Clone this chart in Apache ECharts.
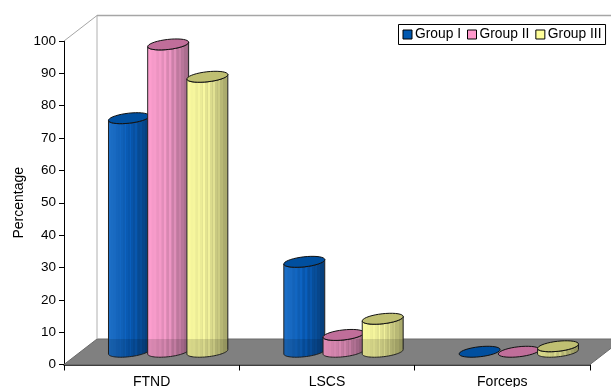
<!DOCTYPE html>
<html>
<head>
<meta charset="utf-8">
<style>html,body{margin:0;padding:0;background:#fff}#chart{width:611px;height:387px}</style>
<script src="https://cdn.jsdelivr.net/npm/echarts@6/dist/echarts.min.js"></script>
</head>
<body>
<div id="chart"></div>
<script>
// Mode of delivery by group (percentage)
const categories = ['FTND', 'LSCS', 'Forceps'];
const groupNames = ['Group I', 'Group II', 'Group III'];
const groupI = [72.2, 27.8, 0];
const groupII = [95, 5.2, 0];
const groupIII = [85, 10.2, 1.7];
const groupValues = [groupI, groupII, groupIII];

// Cylinder shading: left, middle and right tones of the side, then the cap
const palettes = [
  { left: [30, 112, 200], mid: [8, 86, 172], right: [6, 62, 122], cap: '#004f9f', swatch: '#0058b0' },
  { left: [255, 160, 208], mid: [216, 136, 178], right: [166, 108, 140], cap: '#c06e9a', swatch: '#ff99cc' },
  { left: [252, 252, 160], mid: [220, 220, 142], right: [166, 166, 106], cap: '#bfbf72', swatch: '#ffff99' }
];

// Oblique projection of the chart box
const DEPTH_X = 33, DEPTH_Y = 25.5;
const SPACING = 39.2, RX = 20.6, RY = 5, TILT = -6.5 * Math.PI / 180;

function ellipsePoint(cx, cy, t) {
  const ex = RX * Math.cos(t), ey = RY * Math.sin(t);
  return [cx + ex * Math.cos(TILT) - ey * Math.sin(TILT),
          cy + ex * Math.sin(TILT) + ey * Math.cos(TILT)];
}
function arc(cx, cy, from, to) {
  const pts = [];
  for (let i = 0; i <= 36; i++) pts.push(ellipsePoint(cx, cy, from + (to - from) * i / 36));
  return pts;
}
const mixTone = (a, b, t, k) => 'rgb(' + a.map((v, i) => Math.min(255, Math.round((v + (b[i] - v) * t) * k))).join(',') + ')';

// Fine vertical facets across the cylinder side
const facetGain = [1, 1, 1, 1, 1.02, 1, 1, 1.05, 1.02, 1, 1.1, 1.02, 1, 1.12, 1.04, 1, 1.12, 1.02, 1, 1.08, 1, 1.03, 0.98, 1, 0.97];
function sideFill(p) {
  const stops = [];
  const n = facetGain.length;
  facetGain.forEach((k, i) => {
    const t = i / (n - 1);
    const c = t < 0.5 ? mixTone(p.left, p.mid, t / 0.5, k) : mixTone(p.mid, p.right, (t - 0.5) / 0.5, k);
    stops.push({ offset: i / n, color: c }, { offset: (i + 1) / n, color: c });
  });
  return new echarts.graphic.LinearGradient(0, 0, 1, 0, stops);
}

function renderCylinder(groupIndex) {
  return function (params, api) {
    const bandWidth = api.size([1, 0])[0];
    const anchor = api.coord([api.value(0), api.value(1)]);
    const floorY = api.coord([0, 0])[1];
    const cx = anchor[0] + DEPTH_X / 2 + (groupIndex - 1) * SPACING * bandWidth / 175.3;
    const baseY = floorY - DEPTH_Y / 2;
    const topY = anchor[1] - DEPTH_Y / 2;
    const p = palettes[groupIndex];
    const children = [];
    if (api.value(1) > 0) {
      const side = arc(cx, baseY, 0, Math.PI).concat(arc(cx, topY, Math.PI, 0));
      children.push({
        type: 'polygon', shape: { points: side },
        style: { fill: sideFill(p), stroke: '#222', lineWidth: 1 }
      });
      // The translucent floor tints whatever part of the cylinder stands on it
      const backY = floorY - DEPTH_Y;
      children.push({
        type: 'polygon',
        shape: { points: side.map(q => [q[0], Math.max(q[1], backY)]) },
        style: { fill: 'rgba(0,0,0,0.13)' }
      });
    }
    children.push({
      type: 'polygon', shape: { points: arc(cx, topY, 0, Math.PI * 2) },
      style: { fill: p.cap, stroke: '#111', lineWidth: 1 }
    });
    return { type: 'group', children };
  };
}

function renderBox(params) {
  const r = params.coordSys;
  const left = r.x, right = r.x + r.width, top = r.y, bottom = r.y + r.height;
  const line = (x1, y1, x2, y2, color, w) => ({
    type: 'line', shape: { x1, y1, x2, y2 }, style: { stroke: color, lineWidth: w }
  });
  return {
    type: 'group',
    children: [
      { type: 'polygon',
        shape: { points: [[left, bottom], [left + DEPTH_X, bottom - DEPTH_Y], [right + DEPTH_X, bottom - DEPTH_Y], [right, bottom]] },
        style: { fill: '#808080', stroke: '#6a6a6a', lineWidth: 1 } },
      line(left + DEPTH_X, bottom - DEPTH_Y, left + DEPTH_X, top - DEPTH_Y, '#b0b0b0', 1),
      line(left + DEPTH_X, top - DEPTH_Y, right + DEPTH_X, top - DEPTH_Y, '#a6a6a6', 1.5),
      line(left, top, left + DEPTH_X, top - DEPTH_Y, '#a6a6a6', 1)
    ]
  };
}

const chart = echarts.init(document.getElementById('chart'), null, { renderer: 'canvas' });
const font = '"Liberation Sans", Arial, sans-serif';

const series = [{
  name: 'box', type: 'custom', silent: true, z: 1,
  renderItem: renderBox, data: [[0, 0]], encode: { x: 0, y: 1 }
}];
groupNames.forEach((name, g) => {
  series.push({
    name, type: 'custom', z: 2 + g, silent: true,
    itemStyle: { color: palettes[g].swatch },
    renderItem: renderCylinder(g),
    data: groupValues[g].map((v, i) => [i, v]),
    encode: { x: 0, y: 1 }
  });
});

chart.setOption({
  animation: false,
  backgroundColor: '#fff',
  textStyle: { fontFamily: font },
  grid: { left: 64, top: 41, width: 526, height: 323.5, containLabel: false, outerBoundsMode: 'none' },
  legend: {
    data: groupNames.map(name => ({ name, icon: 'rect' })),
    left: 398.5, top: 24.5, orient: 'horizontal',
    itemWidth: 9, itemHeight: 9, itemGap: 6,
    padding: [3, 4, 3, 4],
    backgroundColor: '#fff', borderColor: '#000', borderWidth: 1,
    itemStyle: { borderColor: '#000', borderWidth: 1 },
    textStyle: { fontSize: 13.8, color: '#000', fontFamily: font, padding: [0, 0, 0, -2] }
  },
  xAxis: {
    type: 'category', data: categories,
    axisLine: { lineStyle: { color: '#000', width: 1.5 } },
    axisTick: { show: true, length: 6, alignWithLabel: false, lineStyle: { color: '#000' } },
    axisLabel: { color: '#000', fontSize: 14, margin: 11, fontFamily: font, interval: 0 },
    splitLine: { show: false }
  },
  yAxis: {
    type: 'value', min: 0, max: 100, interval: 10,
    name: 'Percentage', nameLocation: 'middle', nameRotate: 90, nameGap: 38, nameMoveOverlap: false,
    nameTextStyle: { color: '#000', fontSize: 14, fontFamily: font },
    axisLine: { show: true, lineStyle: { color: '#000', width: 1 } },
    axisTick: { show: true, length: 5, lineStyle: { color: '#000' } },
    axisLabel: { color: '#000', fontSize: 13.5, margin: 8, fontFamily: font, padding: [2, 0, 0, 0] },
    splitLine: { show: false }
  },
  series
});
</script>
</body>
</html>
